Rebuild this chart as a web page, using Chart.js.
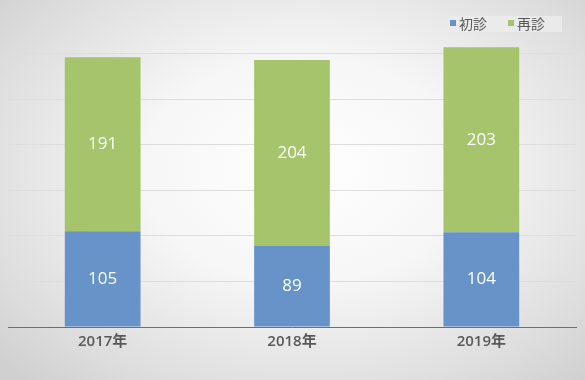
<!DOCTYPE html>
<html>
<head>
<meta charset="utf-8">
<script src="https://cdn.jsdelivr.net/npm/chart.js@4/dist/chart.umd.min.js"></script>
<style>
  html, body { margin: 0; padding: 0; }
  body {
    width: 585px; height: 380px; overflow: hidden;
    background: radial-gradient(ellipse 70% 75% at 52% 45%, #ffffff 0%, #f6f6f6 40%, #dedede 80%, #d0d0d0 100%);
  }
  #wrap { position: relative; width: 585px; height: 380px; }
</style>
</head>
<body>
<div id="wrap"><canvas id="c" width="585" height="380"></canvas></div>
<script>
const categories = ['2017年', '2018年', '2019年'];
const seriesNames = ['初診', '再診'];
const firstVisit = [105, 89, 104];
const returnVisit = [191, 204, 203];
const colors = ['#6793c8', '#a5c46b'];
const FONT = "'Open Sans', 'Noto Sans CJK JP', sans-serif";

const valueLabels = {
  id: 'valueLabels',
  afterDatasetsDraw(chart) {
    const ctx = chart.ctx;
    ctx.save();
    ctx.fillStyle = '#ffffff';
    ctx.font = '500 17px ' + FONT;
    ctx.textAlign = 'center';
    ctx.textBaseline = 'middle';
    chart.data.datasets.forEach((ds, i) => {
      const meta = chart.getDatasetMeta(i);
      meta.data.forEach((bar, j) => {
        const y = (bar.y + bar.base) / 2;
        ctx.fillText(String(ds.data[j]), bar.x, y);
      });
    });
    ctx.restore();
  }
};

const customLegend = {
  id: 'customLegend',
  afterDraw(chart) {
    const ctx = chart.ctx;
    ctx.save();
    ctx.fillStyle = 'rgba(235,235,235,0.9)';
    ctx.fillRect(448, 16, 114, 16);
    ctx.font = "14px 'Noto Sans CJK JP', sans-serif";
    ctx.textBaseline = 'middle';
    ctx.textAlign = 'left';
    const xs = [450, 508];
    chart.data.datasets.forEach((ds, i) => {
      ctx.fillStyle = ds.backgroundColor;
      ctx.fillRect(xs[i], 20, 6, 6);
      ctx.fillStyle = '#595959';
      ctx.fillText(ds.label, xs[i] + 9, 24);
    });
    ctx.restore();
  }
};

new Chart(document.getElementById('c'), {
  type: 'bar',
  data: {
    labels: categories,
    datasets: [
      { label: seriesNames[0], data: firstVisit, backgroundColor: colors[0] },
      { label: seriesNames[1], data: returnVisit, backgroundColor: colors[1] }
    ]
  },
  options: {
    responsive: false,
    animation: false,
    devicePixelRatio: 1,
    layout: { padding: { left: 8, right: 9, top: 8, bottom: 23 } },
    plugins: { legend: { display: false }, tooltip: { enabled: false } },
    datasets: { bar: { barPercentage: 0.4, categoryPercentage: 1.0 } },
    scales: {
      x: {
        stacked: true,
        grid: { display: false, drawTicks: false },
        border: { display: true, color: '#6f6f6f', width: 1 },
        ticks: { color: '#595959', font: { family: FONT, size: 15, weight: '600' }, padding: 6 }
      },
      y: {
        stacked: true,
        min: 0, max: 350,
        ticks: { display: false, stepSize: 50 },
        grid: {
          color: (c) => (c.tick && c.tick.value >= 350) ? 'rgba(0,0,0,0)' : '#dddddd',
          drawTicks: false, lineWidth: 1
        },
        border: { display: false }
      }
    }
  },
  plugins: [valueLabels, customLegend]
});
</script>
</body>
</html>
